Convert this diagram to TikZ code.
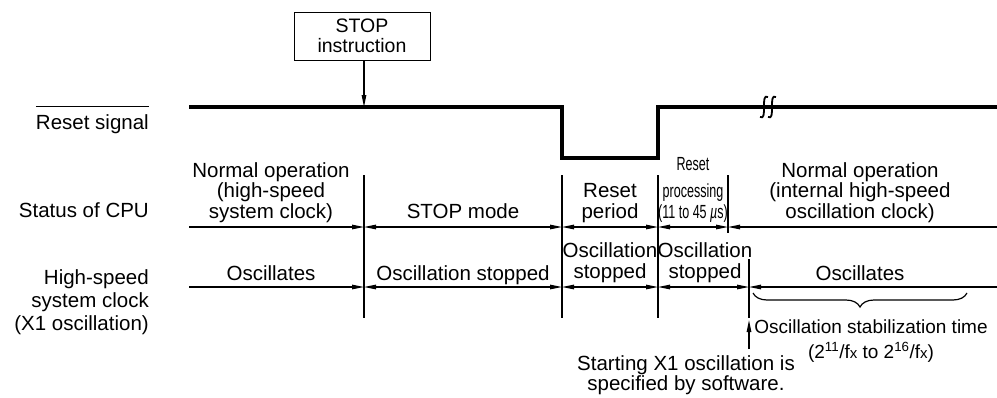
\documentclass[tikz,border=0pt]{standalone}
\usepackage{fontspec}
\setmainfont{Liberation Sans}
\newfontfamily\narrowfont[FakeStretch=0.66]{Liberation Sans}
\usetikzlibrary{arrows.meta, decorations.pathreplacing}
\newcommand\lbfont{\fontsize{20.5}{20.5}\selectfont}
\begin{document}
\begin{tikzpicture}[
  x=1pt, y=-1pt,
  lbl/.style={font=\lbfont, align=center, inner sep=0pt, anchor=base},
  side/.style={font=\lbfont, align=right, inner sep=0pt, anchor=base east},
  sig/.style={line width=3.2pt},
  tick/.style={line width=1.2pt},
  tip/.style={line width=1.2pt, arrows={-Triangle[length=12pt, width=4.5pt]}},
  span/.style={line width=1.2pt, arrows={Triangle[length=12pt, width=4.5pt]-Triangle[length=12pt, width=4.5pt]}},
]
\useasboundingbox (0,0) rectangle (997,397);

% Row labels
\node[side] (rst) at (149,129) {Reset signal};
\draw[line width=1pt] ([yshift=7pt]rst.north west) -- ([yshift=7pt]rst.north east);
\node[side] (cpu) at (149,217) {Status of CPU};
\node[side, font={\fontsize{20.5}{23}\selectfont}] (xclk) at (149,330) {High-speed\\system clock\\(X1 oscillation)};

% STOP instruction
\node[draw, line width=1pt, minimum width=136pt, minimum height=48pt, align=center,
  inner sep=0pt, font={\fontsize{19.5}{20}\selectfont}] (stop) at (362,36) {STOP\\instruction};
\coordinate (stp) at (364,107);
\draw[tip] (stop.south -| stp) -- (stp);

% Reset signal
\coordinate (r0) at (189,107);
\coordinate (r1) at (562,107);
\coordinate (r2) at (562,158);
\coordinate (r3) at (658,158);
\coordinate (r4) at (658,107);
\coordinate (r5) at (997,107);
\draw[sig] (r0) -- (r1) -- (r2) -- (r3) -- (r4) -- (r5);
\foreach \bx in {764,772}
  \draw[line width=1.8pt] (\bx+4,97) .. controls (\bx,95) and (\bx,100) .. (\bx,107)
    .. controls (\bx,114) and (\bx,119) .. (\bx-4,117);

% Boundaries
\foreach \vx/\vt/\vb in {364/175/318, 562/175/318, 658/175/318, 728/175/233, 749/259/318}
  \draw[tick] (\vx,\vt) -- (\vx,\vb);

% CPU status row
\foreach \n/\cx in {0/189, 1/364, 2/562, 3/658, 4/728, 5/997}
  \coordinate (c\n) at (\cx,227);
\draw[tip] (c0) -- (c1);
\foreach \a/\b in {1/2, 2/3, 3/4}
  \draw[span] (c\a) -- (c\b);
\draw[tip] (c5) -- (c4);

% Oscillation row
\foreach \n/\ox in {0/189, 1/364, 2/562, 3/658, 4/749, 5/997}
  \coordinate (o\n) at (\ox,287);
\draw[tip] (o0) -- (o1);
\foreach \a/\b in {1/2, 2/3, 3/4}
  \draw[span] (o\a) -- (o\b);
\draw[tip] (o5) -- (o4);

% Status texts
\node[lbl] (cpu1) at (271,218) {Normal operation\\(high-speed\\system clock)};
\node[lbl] (cpu2) at (463,218) {STOP mode};
\node[lbl] (cpu3) at (610,218) {Reset\\period};
\node[lbl, font={\narrowfont\fontsize{19}{21}\selectfont}] (cpu4) at (693,218)
  {Reset\\[6pt]processing\\(11 to 45 {\itshape µ}s)};
\node[lbl] (cpu5) at (860,218) {Normal operation\\(internal high-speed\\oscillation clock)};

\node[lbl] (osc1) at (271,280) {Oscillates};
\node[lbl] (osc2) at (463,280) {Oscillation stopped};
\node[lbl] (osc3) at (610,278) {Oscillation\\stopped};
\node[lbl] (osc4) at (705,278) {Oscillation\\stopped};
\node[lbl] (osc5) at (860,280) {Oscillates};

% Stabilization time
\coordinate (b0) at (753,293);
\coordinate (b1) at (967,293);
\draw[line width=1.2pt, decorate, decoration={brace, mirror, amplitude=14pt}] (b0) -- (b1);
\node[lbl, font={\fontsize{19}{25}\selectfont}] (stab) at (871,358)
  {Oscillation stabilization time\\(2\textsuperscript{11}/f{\fontsize{15}{15}\selectfont x} to 2\textsuperscript{16}/f{\fontsize{15}{15}\selectfont x})};

% Software start
\coordinate (sw0) at (749,349);
\coordinate (sw1) at (749,320);
\draw[tip] (sw0) -- (sw1);
\node[lbl, font={\fontsize{20.5}{20}\selectfont}] (start) at (686,390) {Starting X1 oscillation is\\specified by software.};
\end{tikzpicture}
\end{document}
